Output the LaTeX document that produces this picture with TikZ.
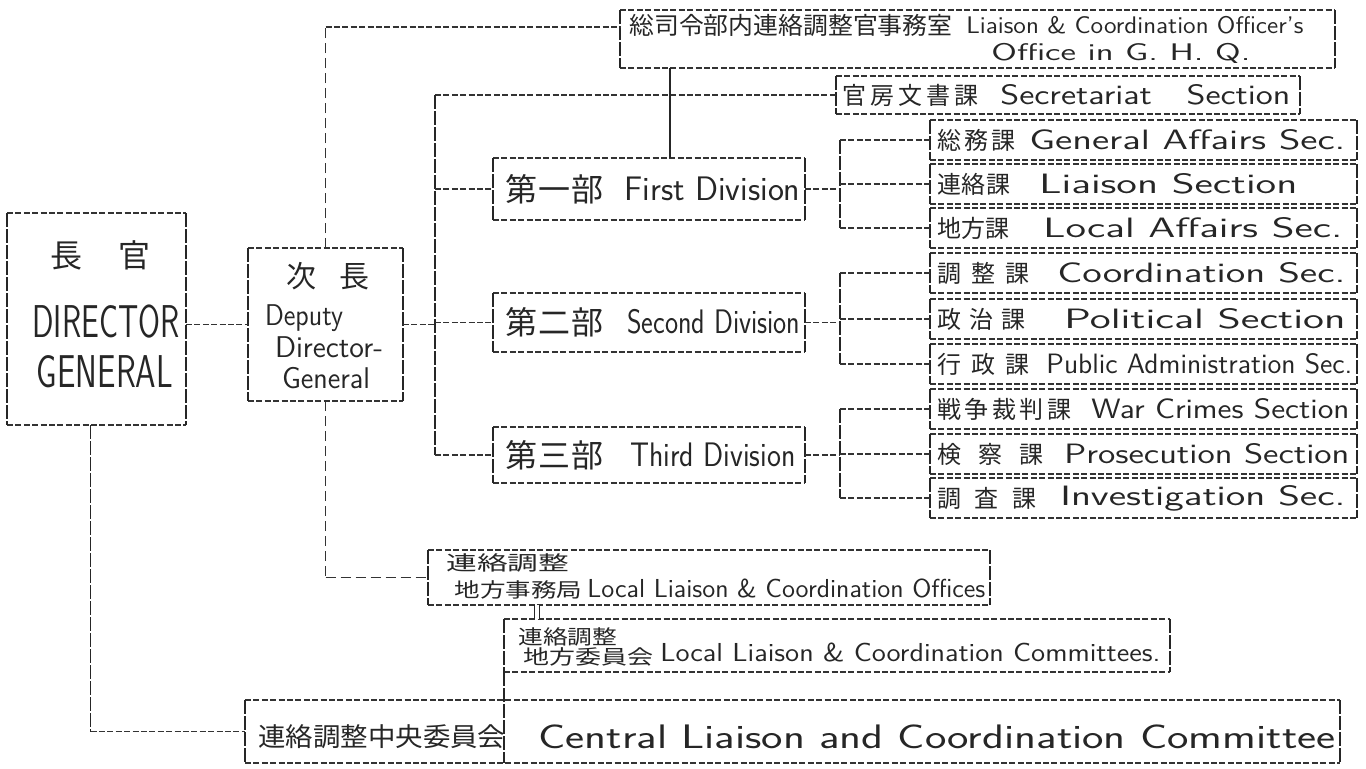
\documentclass[tikz,border=0pt]{standalone}
\usepackage{fontspec}
\usepackage{graphicx}
\setmainfont{Liberation Sans}
\newfontfamily\jp{Noto Sans CJK JP}
\usetikzlibrary{fit,calc}
\newcommand\fx[2]{\resizebox{#1}{\height}{#2}}
\newcommand\fsz[1]{\fontsize{#1}{#1}\selectfont}
\begin{document}
\begin{tikzpicture}[x=0.5pt,y=-0.5pt,
  hl/.style={line width=0.85pt, black!80, dash pattern=on 3pt off 1.2pt},
  vl/.style={line width=0.85pt, black!85, dash pattern=on 7pt off 1pt},
  ld/.style={line width=0.85pt, black!80, dash pattern=on 5pt off 2.5pt},
  bx/.style={inner sep=0pt, outer sep=0pt},
  t/.style={inner sep=0pt, anchor=west, text=black!85, font=\sffamily},
  tc/.style={inner sep=0pt, text=black!85, font=\sffamily}]
\useasboundingbox (0,0) rectangle (1366,768);
\fill[white] (0,0) rectangle (1366,768);

% ---------- boxes ----------
\node[bx, fit={(620,10) (1335,68)}] (ghq) {};
\node[bx, fit={(836,76) (1300,114)}] (sec) {};
\node[bx, fit={(7,213) (186,425)}] (dg) {};
\node[bx, fit={(248,248) (403,401)}] (dep) {};
\node[bx, fit={(493,158) (805,220)}] (d1) {};
\node[bx, fit={(493,293) (805,352)}] (d2) {};
\node[bx, fit={(493,427) (805,483)}] (d3) {};
\node[bx, fit={(930,120) (1357,160)}] (s1) {};
\node[bx, fit={(930,164) (1357,204)}] (s2) {};
\node[bx, fit={(930,208) (1357,248)}] (s3) {};
\node[bx, fit={(930,253) (1357,293)}] (s4) {};
\node[bx, fit={(930,299) (1357,339)}] (s5) {};
\node[bx, fit={(930,344) (1357,384)}] (s6) {};
\node[bx, fit={(930,389) (1357,429)}] (s7) {};
\node[bx, fit={(930,434) (1357,474)}] (s8) {};
\node[bx, fit={(930,478) (1357,518)}] (s9) {};
\node[bx, fit={(428,550) (990,605)}] (off) {};
\node[bx, fit={(504,619) (1170,672)}] (com) {};
\node[bx, fit={(245,700) (1340,763)}] (cen) {};

\foreach \n in {ghq,sec,dg,dep,d1,d2,d3,s1,s2,s3,s4,s5,s6,s7,s8,s9,off,com,cen}{
  \draw[hl] (\n.north west) -- (\n.north east) (\n.south west) -- (\n.south east);
  \draw[vl] (\n.north west) -- (\n.south west) (\n.north east) -- (\n.south east);
}

% ---------- texts ----------
\node[t] (ghqj) at (629,25) {\jp\fsz{12}\fx{161.5pt}{総司令部内連絡調整官事務室}};
\node[t] (ghqe1) at (966,25) {\fsz{12}\fx{168.5pt}{Liaison \& Coordination Officer's}};
\node[t] (ghqe2) at (991,53) {\fsz{12}\fx{129.5pt}{Office in G. H. Q.}};

\node[t] (secj) at (842,95) {\jp\fsz{12}\makebox[68pt][s]{官\hfill 房\hfill 文\hfill 書\hfill 課}};
\node[t] (sece) at (1000,95) {\fsz{14}\fx{145pt}{Secretariat\quad Section}};

\node[tc] (dgj) at (100,255) {\jp\fsz{16}\makebox[50pt][s]{長\hfill 官}};
\node[tc] (dge1) at (106,322) {\fsz{23}\fx{73.5pt}{DIRECTOR}};
\node[tc] (dge2) at (105,372) {\fsz{23}\fx{68pt}{GENERAL}};

\node[tc] (depj) at (328,276) {\jp\fsz{15}\makebox[41.5pt][s]{次\hfill 長}};
\node[tc] (dep1) at (304,318) {\fsz{15}\fx{39pt}{Deputy}};
\node[tc] (dep2) at (329,347) {\fsz{15}\fx{54pt}{Director-}};
\node[tc] (dep3) at (326,378) {\fsz{15}\fx{44pt}{General}};

\node[t] (d1j) at (505,189) {\jp\fsz{16}\makebox[49pt][s]{第\hfill 一\hfill 部}};
\node[t] (d1e) at (624,189) {\fsz{17}\fx{88pt}{First Division}};
\node[t] (d2j) at (505,322) {\jp\fsz{16}\makebox[49pt][s]{第\hfill 二\hfill 部}};
\node[t] (d2e) at (627,322) {\fsz{17}\fx{86.5pt}{Second Division}};
\node[t] (d3j) at (505,455) {\jp\fsz{16}\makebox[49pt][s]{第\hfill 三\hfill 部}};
\node[t] (d3e) at (630,455) {\fsz{17}\fx{82.5pt}{Third Division}};

\node[t] (s1j) at (937,140) {\jp\fsz{12}\makebox[39pt][s]{総\hfill 務\hfill 課}};
\node[t] (s1e) at (1029,140) {\fsz{14}\fx{158pt}{General Affairs Sec.}};
\node[t] (s2j) at (937,184) {\jp\fsz{12}\makebox[36.5pt][s]{連\hfill 絡\hfill 課}};
\node[t] (s2e) at (1039,184) {\fsz{14}\fx{129pt}{Liaison Section}};
\node[t] (s3j) at (937,228) {\jp\fsz{12}\makebox[36pt][s]{地\hfill 方\hfill 課}};
\node[t] (s3e) at (1043,228) {\fsz{14}\fx{149.5pt}{Local Affairs Sec.}};
\node[t] (s4j) at (937,273) {\jp\fsz{12}\makebox[46pt][s]{調\hfill 整\hfill 課}};
\node[t] (s4e) at (1057,273) {\fsz{14}\fx{144pt}{Coordination Sec.}};
\node[t] (s5j) at (937,319) {\jp\fsz{12}\makebox[44pt][s]{政\hfill 治\hfill 課}};
\node[t] (s5e) at (1064,319) {\fsz{14}\fx{140.5pt}{Political Section}};
\node[t] (s6j) at (937,364) {\jp\fsz{12}\makebox[46pt][s]{行\hfill 政\hfill 課}};
\node[t] (s6e) at (1046,364) {\fsz{14}\fx{153pt}{Public Administration Sec.}};
\node[t] (s7j) at (937,409) {\jp\fsz{12}\makebox[67pt][s]{戦\hfill 争\hfill 裁\hfill 判\hfill 課}};
\node[t] (s7e) at (1091,409) {\fsz{14}\fx{129pt}{War Crimes Section}};
\node[t] (s8j) at (937,454) {\jp\fsz{12}\makebox[53pt][s]{検\hfill 察\hfill 課}};
\node[t] (s8e) at (1064,454) {\fsz{14}\fx{142.5pt}{Prosecution Section}};
\node[t] (s9j) at (937,498) {\jp\fsz{12}\makebox[49.5pt][s]{調\hfill 査\hfill 課}};
\node[t] (s9e) at (1060,498) {\fsz{14}\fx{142.5pt}{Investigation Sec.}};

\node[t] (offj1) at (446,563) {\jp\fsz{10}\fx{61.5pt}{連絡調整}};
\node[t] (offj2) at (454,590) {\jp\fsz{10}\fx{64pt}{地方事務局}};
\node[t] (offe) at (587,588) {\fsz{13}\fx{199pt}{Local Liaison \& Coordination Offices}};
\node[t] (comj1) at (518,637) {\jp\fsz{10}\fx{49.5pt}{連絡調整}};
\node[t] (comj2) at (523,657) {\jp\fsz{10}\fx{65pt}{地方委員会}};
\node[t] (come) at (660,652) {\fsz{13}\fx{250pt}{Local Liaison \& Coordination Committees.}};
\node[t] (cenj) at (258,737) {\jp\fsz{13}\fx{123.5pt}{連絡調整中央委員会}};
\node[t] (cene) at (538,737) {\fsz{17}\fx{398.5pt}{Central Liaison and Coordination Committee}};

% ---------- connectors ----------
\coordinate (bus) at (435,95);
\coordinate (brk) at (840,0);
\draw[hl] (dg.east |- dep.west) -- (dep.west);
\draw[hl] (dep.east) -- (dep.east -| bus);
\draw[hl] (bus) -- (sec.west);
\draw[vl] (bus) -- (bus |- d3.west);
\foreach \d in {d1,d2,d3} \draw[hl] (bus |- \d.west) -- (\d.west);

\coordinate (ghqin) at ([yshift=6pt]ghq.west);
\draw[ld] (dep.north) -- (dep.north |- ghqin);
\draw[hl] (dep.north |- ghqin) -- (ghqin);
\coordinate (d1top) at ([xshift=10.5pt]d1.north);
\draw[line width=0.85pt, black!85] (d1top) -- (d1top |- ghq.south);

\draw[hl] (d1.east) -- (d1.east -| brk);
\draw[vl] (s1.west -| brk) -- (s3.west -| brk);
\foreach \s in {s1,s2,s3} \draw[hl] (\s.west -| brk) -- (\s.west);
\draw[hl] (d2.east) -- (d2.east -| brk);
\draw[vl] (s4.west -| brk) -- (s6.west -| brk);
\foreach \s in {s4,s5,s6} \draw[hl] (\s.west -| brk) -- (\s.west);
\draw[hl] (d3.east) -- (d3.east -| brk);
\draw[vl] (s7.west -| brk) -- (s9.west -| brk);
\foreach \s in {s7,s8,s9} \draw[hl] (\s.west -| brk) -- (\s.west);

\coordinate (dgc) at ([xshift=-3pt]dg.south);
\draw[vl] (dgc) -- (dgc |- cen.west);
\draw[hl] (dgc |- cen.west) -- (cen.west);
\draw[ld] (dep.south) -- (dep.south |- off.west);
\draw[ld] (dep.south |- off.west) -- (off.west);
\coordinate (oc) at ($(off.south west)+(109,0)$);
\draw[black!85, line width=0.5pt, double, double distance=1.6pt] (oc) -- (oc |- com.north);
\draw[vl] (com.south west) -- (com.south west |- cen.south);
\end{tikzpicture}
\end{document}
